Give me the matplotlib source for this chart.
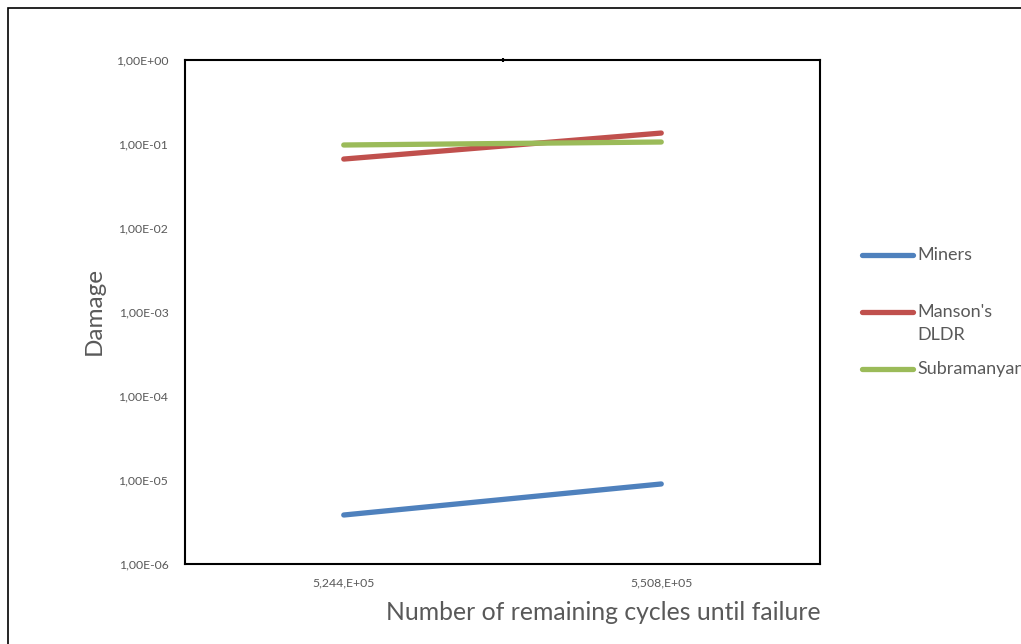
import math
import matplotlib
matplotlib.use("Agg")
import matplotlib.pyplot as plt
from matplotlib.lines import Line2D
from matplotlib.patches import Rectangle
from matplotlib.ticker import FixedLocator, FuncFormatter

plt.rcParams['font.family'] = ['Lato', 'DejaVu Sans']

categories = ["5,244,E+05", "5,508,E+05"]
miners = [3.83e-6, 8.97e-6]
manson = [0.0662, 0.135]
subramanyan = [0.0973, 0.1056]
series_names = ["Miners", "Manson's\nDLDR", "Subramanyan"]
colors = ["#4F81BD", "#C0504D", "#9BBB59"]

W, H = 1021, 644
fig = plt.figure(figsize=(W/100, H/100), dpi=100)
ax = fig.add_axes([185/W, 1-564/H, (820-185)/W, (564-60)/H])

x = list(range(len(categories)))
for vals, c in zip([miners, manson, subramanyan], colors):
    ax.plot(x, vals, color=c, lw=3.8, solid_capstyle='round')

ax.set_yscale('log')
ax.set_ylim(1e-6, 1e0)
ax.set_xlim(-0.5, len(categories)-0.5)
ax.yaxis.set_major_locator(FixedLocator([10.0**k for k in range(-6, 1)]))
ax.yaxis.set_minor_locator(FixedLocator([]))

def fmt(v, pos):
    e = int(round(math.log10(v)))
    sign = '+' if e >= 0 else '-'
    return "1,00E%s%02d" % (sign, abs(e))
ax.yaxis.set_major_formatter(FuncFormatter(fmt))
ax.set_xticks(x)
ax.set_xticklabels(categories)
ax.tick_params(axis='both', length=0, labelsize=8.8, labelcolor='#595959')
ax.tick_params(axis='x', pad=10)
ax.tick_params(axis='y', pad=12)
# category divider tick at top
ax.xaxis.set_minor_locator(FixedLocator([0.5]))
ax.tick_params(axis='x', which='minor', top=True, bottom=False, length=3, width=1.5, color='black', direction='inout')
for s in ax.spines.values():
    s.set_linewidth(1.5)
    s.set_color('black')

fig.text(94/W, 1-311/H, "Damage", rotation=90, ha='center', va='center', fontsize=17.5, color='#595959')
fig.text(603/W, 1-613/H, "Number of remaining cycles until failure", ha='center', va='center', fontsize=17.8, color='#595959')

# legend
leg_y = [255, 312, 369]
for name, c, yy in zip(series_names, colors, leg_y):
    fig.add_artist(Line2D([862/W, 913/W], [1-yy/H, 1-yy/H], color=c, lw=3.8, solid_capstyle='round'))
    fig.text(917/W, 1-(yy-8)/H, name, ha='left', va='top', fontsize=13, color='#595959', linespacing=1.5)

fig.add_artist(Rectangle((8/W, -0.1), 1.2, 1-8/H+0.1, transform=fig.transFigure,
                         fill=False, edgecolor='black', lw=1.2))

fig.savefig("out.png", dpi=100)
